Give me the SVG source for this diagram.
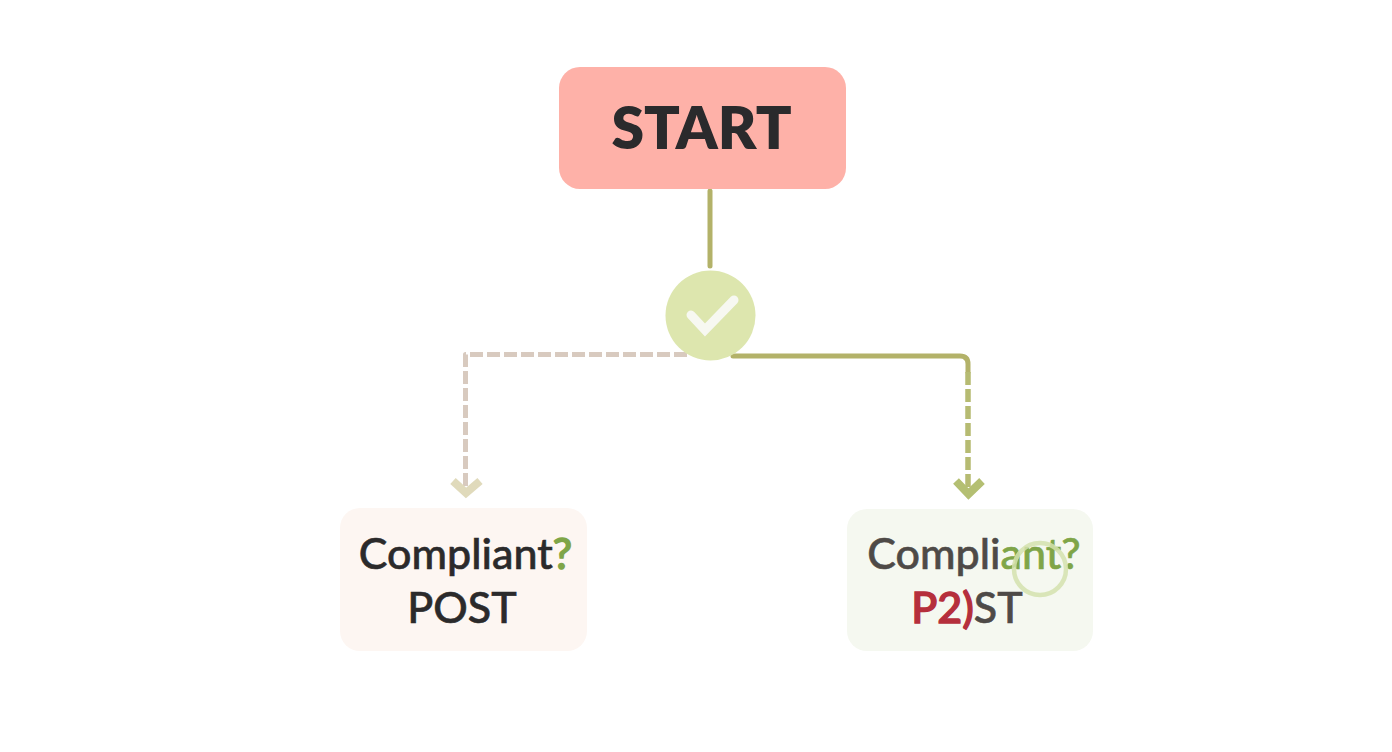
<svg xmlns="http://www.w3.org/2000/svg" width="1392" height="752" viewBox="0 0 1392 752">
<style>
text{font-family:"Lato","Open Sans","Liberation Sans",sans-serif;text-anchor:middle}
.t{font-size:43px;font-weight:500;fill:#2b2a2b;stroke:#2b2a2b;stroke-width:.6px}
.m{fill:#4e4a47;stroke:#4e4a47}
.g{fill:#7fa548;stroke:#7fa548}
.r{fill:#b52f3c;stroke:#b52f3c;stroke-width:1.4px}
.line{fill:none;stroke-width:5;stroke-linecap:round;stroke-linejoin:round}
.ol{stroke:#b3b269}
.dash{stroke-dasharray:13 4;stroke-linecap:butt}
.tan{stroke:#d8cabf}
.head{fill:none;stroke-width:8;stroke-linecap:butt;stroke-linejoin:miter}
</style>
<rect width="1392" height="752" fill="#fff"/>
<g id="connectors">
<path class="line ol" d="M710 191V266"/>
<path class="line tan dash" d="M687 354.500H465.500V486"/>
<path class="line ol" d="M733 356H960Q968 356 968 364V372"/>
<path class="line ol dash" style="stroke:#b6bb72;stroke-width:5.500" d="M968 372V488"/>
<path class="head" stroke="#e0dabb" d="M453 481L466 493L480 481"/>
<path class="head" stroke="#b4bf72" d="M956 481L968.500 494L982 481"/>
</g>
<g id="start">
<rect x="559" y="67" width="287" height="122" rx="21" fill="#feb1a8"/>
<text x="701.500" y="149" style="font-size:59px;font-weight:800;fill:#2a2a2c">START</text>
</g>
<g id="decision">
<circle cx="710.500" cy="315.500" r="45" fill="#dde6ae"/>
<path d="M691 315L705 330L734 300" fill="none" stroke="#f7f8f1" stroke-width="9" stroke-linecap="round" stroke-linejoin="miter"/>
</g>
<g id="post-left">
<rect x="340" y="508" width="247" height="143" rx="20" fill="#fdf6f2"/>
<text class="t" x="465.500" y="569">Compliant<tspan class="g" style="stroke-width:1.4px">?</tspan></text>
<text class="t" x="462" y="623">POST</text>
</g>
<g id="post-right">
<rect x="847" y="509" width="246" height="142" rx="20" fill="#f5f8f0"/>
<text class="t m" x="974" y="569">Compli<tspan class="g">ant?</tspan></text>
<text class="t m" x="967" y="623"><tspan class="r">P2)</tspan>ST</text>
<circle cx="1040" cy="569" r="26" fill="none" stroke="#d4e2ae" stroke-width="4.500" opacity=".85"/>
</g>
</svg>
